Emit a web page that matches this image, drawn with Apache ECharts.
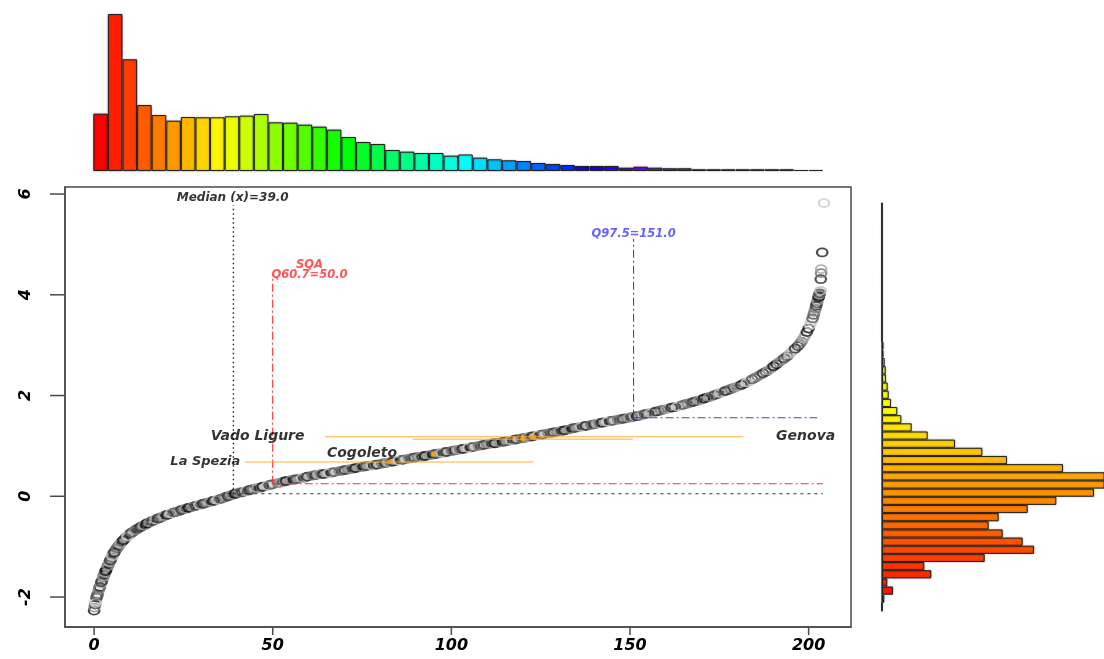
<!DOCTYPE html>
<html>
<head>
<meta charset="utf-8">
<script src="https://cdn.jsdelivr.net/npm/echarts@6/dist/echarts.min.js"></script>
<style>
  html, body { margin: 0; padding: 0; background: #ffffff; }
  #chart { width: 1104px; height: 659px; }
</style>
</head>
<body>
<div id="chart"></div>
<script>
// Histogram of x (50 equal bins over the x range), bar heights
const topCounts = [57.3, 157, 111.7, 66, 56, 50.3, 54, 53.7, 53.7, 54.7,
  55.3, 57, 48.7, 48.3, 46.3, 44.3, 41.3, 34, 29, 27,
  21, 19.3, 18, 18, 15.3, 16.5, 13.3, 11.7, 10.7, 10,
  8, 7, 6, 5, 5, 5, 3.3, 4.3, 3.3, 2.7,
  2.7, 1.7, 1.7, 1.7, 1.7, 1.7, 1.7, 1.7, 1, 1];

// Histogram of y (50 equal bins, listed from the lowest bin upward)
const sideCounts = [0, 2.3, 11, 5.3, 49.3, 42.3, 102.7, 152, 140.7, 120.7,
  106.7, 116.7, 145.7, 174.3, 212, 240, 235, 181, 125, 100.3,
  73, 45.7, 29.7, 19.3, 15.3, 9, 6.7, 5.7, 4, 3.7,
  2.7, 1.5, 1.5, 0, 0, 0, 0, 0, 0, 0,
  0, 0, 0, 0, 0, 0, 0, 0, 0, 0];

// Observations: [x, transformed value]
const points = [
  [0.0,-2.27],[0.1,-2.21],[0.3,-2.15],[0.5,-2.08],[0.7,-2.01],[1.0,-1.94],[1.3,-1.87],[1.6,-1.80],
  [1.9,-1.74],[2.2,-1.68],[2.5,-1.62],[2.8,-1.56],[3.1,-1.51],[3.4,-1.46],[3.7,-1.41],[4.0,-1.36],
  [4.3,-1.31],[4.6,-1.27],[4.9,-1.22],[5.2,-1.17],[5.5,-1.13],[5.8,-1.09],[6.2,-1.05],[6.6,-1.01],
  [7.0,-0.97],[7.5,-0.93],[8.0,-0.89],[8.5,-0.85],[9.0,-0.81],[9.6,-0.78],[10.2,-0.74],[10.8,-0.71],
  [11.4,-0.68],[12.0,-0.65],
  [0.4,-2.12],[0.9,-1.97],[1.4,-1.84],[2.0,-1.71],[2.6,-1.60],[3.2,-1.49],[3.9,-1.38],[4.5,-1.28],
  [5.1,-1.19],[5.7,-1.11],[6.4,-1.03],[7.2,-0.95],[8.2,-0.87],[9.3,-0.80],[10.5,-0.72],[11.7,-0.67],
  [12.8,-0.62],[13.6,-0.59],[14.4,-0.56],[15.2,-0.53],[16.0,-0.50],[16.8,-0.48],[17.6,-0.45],[18.4,-0.43],
  [19.2,-0.40],[20.0,-0.38],[21.0,-0.36],[22.0,-0.33],[23.0,-0.31],[24.0,-0.29],[25.0,-0.26],[26.0,-0.24],
  [27.0,-0.22],[28.0,-0.20],[29.0,-0.18],[30.0,-0.16],[31.0,-0.14],[32.0,-0.12],[33.0,-0.10],[34.0,-0.08],
  [35.0,-0.06],[36.0,-0.04],[37.0,-0.01],[38.0,0.01],[39.0,0.04],[40.0,0.06],[41.0,0.08],[42.0,0.09],
  [43.0,0.11],[44.0,0.13],[45.0,0.15],[46.5,0.17],[48.0,0.20],[49.0,0.22],[50.0,0.24],
  [13.2,-0.60],[14.0,-0.58],[14.8,-0.54],[15.6,-0.52],[16.4,-0.49],[17.2,-0.46],[18.0,-0.44],[18.8,-0.42],
  [19.6,-0.39],[20.5,-0.37],[21.5,-0.34],[22.5,-0.32],[23.5,-0.30],[24.5,-0.27],[25.5,-0.25],[26.5,-0.23],
  [27.5,-0.21],[28.5,-0.19],[29.5,-0.17],[30.5,-0.15],[31.5,-0.13],[32.5,-0.11],[33.5,-0.09],[34.5,-0.07],
  [35.5,-0.05],[36.5,-0.02],[37.5,0.00],[38.5,0.03],[39.5,0.05],[40.5,0.07],[41.5,0.08],[42.5,0.10],
  [43.5,0.12],[44.5,0.14],[45.7,0.16],[47.2,0.19],[48.5,0.21],[49.5,0.23],
  [51.5,0.26],[53.0,0.29],[54.5,0.31],[56.0,0.33],[57.5,0.35],[59.0,0.37],[60.5,0.40],[62.0,0.42],
  [63.5,0.44],[65.0,0.45],[66.5,0.47],[68.0,0.49],[69.5,0.51],[71.0,0.53],[72.5,0.55],[74.0,0.57],
  [75.5,0.59],[77.0,0.61],[78.5,0.62],[80.0,0.64],[81.5,0.66],[83.0,0.68],[84.5,0.70],[86.0,0.72],
  [87.5,0.74],[89.0,0.76],[90.5,0.78],[92.0,0.79],[93.5,0.81],[95.0,0.83],[96.5,0.85],[98.0,0.87],
  [99.5,0.89],[101.0,0.91],[102.5,0.93],[104.0,0.95],[105.5,0.97],[107.0,0.99],[108.5,1.01],[110.0,1.03],
  [111.5,1.05],[113.0,1.06],[114.5,1.08],[116.0,1.10],[117.5,1.12],[119.0,1.14],[120.5,1.16],[122.0,1.18],
  [123.5,1.20],[125.0,1.22],[126.5,1.24],[128.0,1.26],[129.5,1.28],[131.0,1.30],[132.5,1.32],[134.0,1.35],
  [135.5,1.37],[137.0,1.39],[138.5,1.41],[140.0,1.43],[141.5,1.45],[143.0,1.47],[144.5,1.49],[146.0,1.51],
  [147.5,1.53],[149.0,1.55],[150.5,1.57],
  [52.2,0.27],[53.7,0.30],[55.2,0.32],[56.7,0.34],[58.2,0.36],[59.7,0.39],[61.2,0.41],[62.7,0.43],
  [64.2,0.44],[65.7,0.46],[67.2,0.48],[68.7,0.50],[70.2,0.52],[71.7,0.54],[73.2,0.56],[74.7,0.58],
  [76.2,0.60],[77.7,0.61],[79.2,0.63],[80.7,0.65],[82.2,0.67],[83.7,0.69],[85.2,0.71],[86.7,0.73],
  [88.2,0.75],[89.7,0.77],[91.2,0.78],[92.7,0.80],[94.2,0.82],[95.7,0.84],[97.2,0.86],[98.7,0.88],
  [100.2,0.90],[101.7,0.92],[103.2,0.94],[104.7,0.96],[106.2,0.98],[107.7,1.00],[109.2,1.02],[110.7,1.04],
  [112.2,1.05],[113.7,1.07],[115.2,1.09],[116.7,1.11],[118.2,1.13],[119.7,1.15],[121.2,1.17],[122.7,1.19],
  [124.2,1.21],[125.7,1.23],[127.2,1.25],[128.7,1.27],[130.2,1.29],[131.7,1.31],[133.2,1.33],[134.7,1.36],
  [136.2,1.38],[137.7,1.40],[139.2,1.42],[140.7,1.44],[142.2,1.46],[143.7,1.48],[145.2,1.50],[146.7,1.52],
  [148.2,1.54],[149.7,1.56],
  [152.0,1.59],[153.5,1.62],[155.0,1.64],[156.5,1.67],[158.0,1.69],[159.5,1.72],[161.0,1.75],[162.5,1.77],
  [164.0,1.80],[165.5,1.83],[167.0,1.86],[168.5,1.89],[170.0,1.92],[171.5,1.96],[173.0,1.99],[174.5,2.03],
  [176.0,2.07],[177.5,2.11],[179.0,2.15],[180.5,2.19],[182.0,2.24],[183.5,2.29],[185.0,2.35],[186.5,2.41],
  [188.0,2.47],[189.5,2.54],[191.0,2.62],[192.5,2.70],[194.0,2.78],[195.5,2.88],[197.0,2.98],[198.0,3.07],
  [199.0,3.19],[200.0,3.33],[200.8,3.47],[201.4,3.60],[201.9,3.72],[202.3,3.83],[202.6,3.92],[202.9,3.98],
  [152.7,1.60],[154.2,1.63],[155.7,1.65],[157.2,1.68],[158.7,1.71],[160.2,1.73],[161.7,1.76],[163.2,1.78],
  [164.7,1.81],[166.2,1.84],[167.7,1.87],[169.2,1.90],[170.7,1.94],[172.2,1.97],[173.7,2.01],[175.2,2.05],
  [176.7,2.09],[178.2,2.13],[179.7,2.17],[181.2,2.21],[182.7,2.26],[184.2,2.32],[185.7,2.38],[187.2,2.44],
  [188.7,2.50],[190.2,2.58],[191.7,2.66],[193.2,2.74],[194.7,2.83],[196.2,2.93],[197.5,3.02],[198.5,3.13],
  [199.5,3.26],[200.4,3.40],[201.1,3.53],[201.6,3.66],[202.1,3.78],[202.5,3.88],[202.8,3.95],[203.0,4.00],
  [203.1,4.03],[203.3,4.08],[203.4,4.31],[203.5,4.43],[203.5,4.51],[203.8,4.84],[204.3,5.82]
];

const xTicks = [0, 50, 100, 150, 200];
const yTicks = [-2, 0, 2, 4, 6];

// Reference statistics
const medianX = 39.0, medianY = 0.05;
const sqaX = 50.0, sqaY = 0.25;
const q975X = 151.0, q975Y = 1.56;

// Monitoring sites: position on the curve and horizontal range
const siteNames = ['La Spezia', 'Cogoleto', 'Vado Ligure', 'Genova'];
const siteX = [82.6, 94.9, 123.1, 120.0];
const siteY = [0.68, 0.84, 1.18, 1.13];
const siteLo = [42.2, null, 64.6, 89.2];
const siteHi = [123.0, null, 181.7, 150.8];

// ---- helpers ----
function hsv(h) {
  const i = Math.floor(h * 6) % 6, f = h * 6 - Math.floor(h * 6);
  const q = 1 - f, t = f;
  const rgb = [[1, t, 0], [q, 1, 0], [0, 1, t], [0, q, 1], [t, 0, 1], [1, 0, q]][i];
  return 'rgb(' + rgb.map(v => Math.round(v * 255)).join(',') + ')';
}
const grays = ['#111111', '#8c8c8c', '#4a4a4a', '#bdbdbd', '#2c2c2c', '#6e6e6e',
  '#a4a4a4', '#1e1e1e', '#cacaca', '#5a5a5a', '#7e7e7e', '#3a3a3a', '#9a9a9a'];

const font = { fontFamily: 'DejaVu Sans', fontWeight: 'bold', fontStyle: 'italic' };
const frameColor = '#4a4a4a';

// main panel geometry and ranges
const mainGrid = { left: 65, top: 187, width: 786, height: 440 };
const xMin = -8.14, xMax = 211.86, yMin = -2.595, yMax = 6.14;

function refLine(data, color, dash, width) {
  return {
    type: 'line', xAxisIndex: 0, yAxisIndex: 0, data: data, symbol: 'none',
    lineStyle: { color: color, width: width || 1.1, type: dash }, silent: true, z: 3
  };
}

function textItem(x, y, text, pos, color, size) {
  return {
    value: [x, y],
    label: Object.assign({
      show: true, formatter: text, position: pos, distance: 0,
      color: color, fontSize: size, lineHeight: size - 1, align: 'center'
    }, font, pos === 'left' ? { align: 'right' } : pos === 'right' ? { align: 'left' } : {})
  };
}

const chart = echarts.init(document.getElementById('chart'), null, { renderer: 'canvas' });

const series = [];

// top histogram
series.push({
  type: 'bar', xAxisIndex: 1, yAxisIndex: 1, data: topCounts, barCategoryGap: '0%',
  itemStyle: {
    color: p => hsv(p.dataIndex / topCounts.length),
    borderColor: '#222222', borderWidth: 1,
    shadowColor: 'rgba(0,0,0,0.35)', shadowBlur: 2
  }, silent: true
});

// side histogram
series.push({
  type: 'bar', xAxisIndex: 2, yAxisIndex: 2, data: sideCounts, barCategoryGap: '0%',
  itemStyle: {
    color: p => hsv(p.dataIndex / (sideCounts.length - 1) / 3),
    borderColor: '#222222', borderWidth: 1,
    shadowColor: 'rgba(0,0,0,0.35)', shadowBlur: 2
  }, silent: true
});

// main scatter
series.push({
  type: 'scatter', xAxisIndex: 0, yAxisIndex: 0, symbol: 'circle', symbolSize: [10.5, 8],
  data: points.map((p, i) => ({
    value: p,
    itemStyle: { color: 'rgba(255,255,255,0)', borderColor: grays[i % grays.length], borderWidth: 2 }
  })),
  z: 2, silent: true
});

// reference lines
series.push(refLine([[medianX, medianY], [medianX, 5.78]], '#222222', [1.5, 3], 1.4));
series.push(refLine([[medianX, medianY], [204, medianY]], '#333333', [3, 4]));
series.push(refLine([[sqaX, sqaY], [sqaX, 4.35]], '#ff2a2a', [8, 3, 2, 3]));
series.push(refLine([[sqaX, sqaY], [204, sqaY]], '#ff2a2a', [8, 3, 2, 3]));
series.push(refLine([[q975X, q975Y], [q975X, 5.11]], '#3b3bff', [8, 3, 2, 3]));
series.push(refLine([[q975X, q975Y], [202.4, q975Y]], '#3b3bff', [8, 3, 2, 3]));

// site ranges
siteNames.forEach((n, i) => {
  if (siteLo[i] === null) return;
  series.push({
    type: 'line', xAxisIndex: 0, yAxisIndex: 0, symbol: 'none', silent: true, z: 4,
    data: [[siteLo[i], siteY[i]], [siteHi[i], siteY[i]]],
    lineStyle: { color: 'rgba(255,170,40,0.65)', width: 1.5 }
  });
});

// site points
series.push({
  type: 'scatter', xAxisIndex: 0, yAxisIndex: 0, symbol: 'circle', symbolSize: 5,
  data: siteX.map((x, i) => [x, siteY[i]]),
  itemStyle: { color: '#ffa500' }, z: 5, silent: true
});

// annotations
series.push({
  type: 'scatter', xAxisIndex: 0, yAxisIndex: 0, symbolSize: 0, silent: true, z: 6,
  data: [
    textItem(38.8, 5.92, 'Median (x)=' + medianX.toFixed(1), 'inside', '#000000', 12),
    textItem(60.3, 4.49, 'SQA\nQ60.7=' + sqaX.toFixed(1), 'inside', '#ff2a2a', 11.5),
    textItem(151.0, 5.21, 'Q97.5=' + q975X.toFixed(1), 'inside', '#3b3bff', 11.5),
    textItem(40.9, 0.69, siteNames[0], 'left', '#000000', 13),
    textItem(75.0, 0.85, siteNames[1], 'inside', '#000000', 14),
    textItem(58.9, 1.18, siteNames[2], 'left', '#000000', 14),
    textItem(190.9, 1.18, siteNames[3], 'right', '#000000', 14)
  ]
});

const tickLabel = Object.assign({ color: '#000000', fontSize: 16 }, font);

chart.setOption({
  animation: false,
  grid: [
    Object.assign({ show: true, borderColor: frameColor, borderWidth: 1.5, outerBoundsMode: 'none' }, mainGrid),
    { left: 93.3, top: 14, width: 729.7, height: 157, outerBoundsMode: 'none' },
    { left: 882, top: 203, width: 222, height: 408, outerBoundsMode: 'none' }
  ],
  xAxis: [
    { gridIndex: 0, type: 'value', min: xMin, max: xMax,
      axisLine: { show: true, onZero: false, lineStyle: { color: frameColor, width: 1.5 } },
      splitLine: { show: false }, axisTick: { show: false },
      axisLabel: Object.assign({ customValues: xTicks, margin: 11 }, tickLabel) },
    { gridIndex: 1, type: 'category', data: topCounts.map((_, i) => i), show: false },
    { gridIndex: 2, type: 'value', min: 0, max: 222, show: false }
  ],
  yAxis: [
    { gridIndex: 0, type: 'value', min: yMin, max: yMax,
      axisLine: { show: true, onZero: false, lineStyle: { color: frameColor, width: 1.5 } },
      splitLine: { show: false }, axisTick: { show: false },
      axisLabel: Object.assign({ customValues: yTicks, margin: 31, rotate: 90 }, tickLabel) },
    { gridIndex: 1, type: 'value', min: 0, max: 157, show: false },
    { gridIndex: 2, type: 'category', data: sideCounts.map((_, i) => i),
      axisLine: { show: true, onZero: false, lineStyle: { color: frameColor, width: 1.5 } },
      axisTick: { show: false }, axisLabel: { show: false }, splitLine: { show: false } }
  ],
  series: series
});

// Outward tick marks at the labelled values, positioned through the grid's coordinate system
function toPx(x, y) {
  let p = null;
  try { p = chart.convertToPixel({ gridIndex: 0 }, [x, y]); } catch (e) { p = null; }
  if (!p || !isFinite(p[0]) || !isFinite(p[1])) {
    p = [mainGrid.left + (x - xMin) / (xMax - xMin) * mainGrid.width,
         mainGrid.top + (yMax - y) / (yMax - yMin) * mainGrid.height];
  }
  return p;
}
const tickMarks = [];
xTicks.forEach(v => {
  const p = toPx(v, yMin);
  tickMarks.push({ type: 'line', z: 100, silent: true,
    shape: { x1: p[0], y1: p[1], x2: p[0], y2: p[1] + 8 },
    style: { stroke: frameColor, lineWidth: 1.5 } });
});
yTicks.forEach(v => {
  const p = toPx(xMin, v);
  tickMarks.push({ type: 'line', z: 100, silent: true,
    shape: { x1: p[0] - 15, y1: p[1], x2: p[0], y2: p[1] },
    style: { stroke: frameColor, lineWidth: 1.5 } });
});
chart.setOption({ graphic: { elements: tickMarks } });
</script>
</body>
</html>
